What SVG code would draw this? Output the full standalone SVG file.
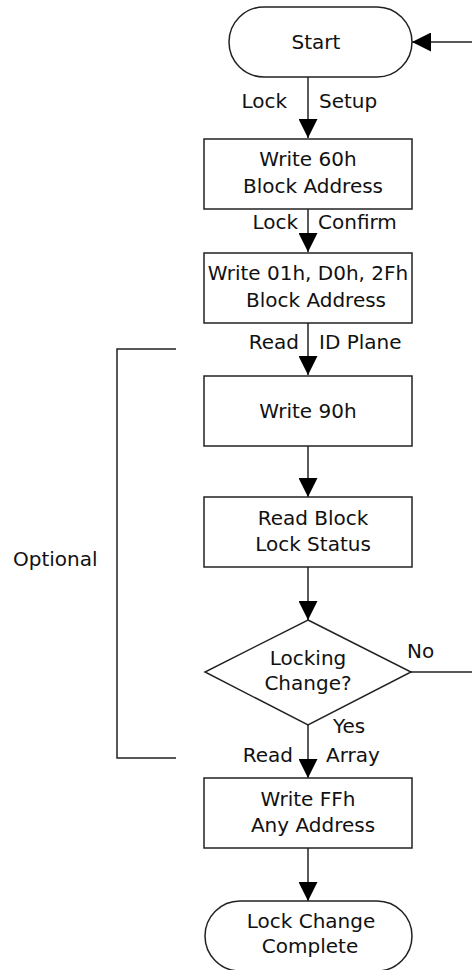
<svg xmlns="http://www.w3.org/2000/svg" width="472" height="970" viewBox="0 0 472 970">
<style>
.s{fill:#fff;stroke:#222;stroke-width:1.5}
.l{fill:none;stroke:#222;stroke-width:1.5}
text{font-family:"DejaVu Sans","Liberation Sans",sans-serif;font-size:20px;fill:#111}
.c{text-anchor:middle}
.e{text-anchor:end}
</style>
<defs>
<marker id="ah" viewBox="0 0 19 19" refX="19" refY="9.5" markerWidth="19" markerHeight="19" markerUnits="userSpaceOnUse" orient="auto">
<path d="M0,0 L19,9.5 L0,19 Z" fill="#000"/>
</marker>
</defs>
<rect width="472" height="970" fill="#fff"/>
<g id="connectors">
<line class="l" x1="308" y1="77" x2="308" y2="138" marker-end="url(#ah)"/>
<line class="l" x1="308" y1="209" x2="308" y2="252" marker-end="url(#ah)"/>
<line class="l" x1="308" y1="323" x2="308" y2="375" marker-end="url(#ah)"/>
<line class="l" x1="308" y1="446" x2="308" y2="497" marker-end="url(#ah)"/>
<line class="l" x1="308" y1="567" x2="308" y2="620" marker-end="url(#ah)"/>
<line class="l" x1="308" y1="725" x2="308" y2="778" marker-end="url(#ah)"/>
<line class="l" x1="308" y1="848" x2="308" y2="901" marker-end="url(#ah)"/>
<line class="l" x1="411" y1="672" x2="472" y2="672"/>
<line class="l" x1="472" y1="42" x2="412" y2="42" marker-end="url(#ah)"/>
<text x="287" y="108" class="e">Lock</text>
<text x="319" y="108">Setup</text>
<text x="298" y="229" class="e">Lock</text>
<text x="318" y="229">Confirm</text>
<text x="299" y="349" class="e">Read</text>
<text x="319" y="349">ID Plane</text>
<text x="407" y="658">No</text>
<text x="333" y="733">Yes</text>
<text x="293" y="762" class="e">Read</text>
<text x="326" y="762">Array</text>
</g>
<g id="bracket">
<path class="l" d="M176,349 H117 V758 H176"/>
<text x="13" y="566">Optional</text>
</g>
<g id="start">
<rect class="s" x="229" y="7" width="183" height="70" rx="35" ry="35"/>
<text x="316" y="49" class="c">Start</text>
</g>
<g id="write60">
<rect class="s" x="204" y="139" width="208" height="70"/>
<text x="308" y="166" class="c">Write 60h</text>
<text x="313" y="193" class="c">Block Address</text>
</g>
<g id="write01">
<rect class="s" x="204" y="253" width="208" height="70"/>
<text x="308" y="280" class="c">Write 01h, D0h, 2Fh</text>
<text x="316" y="307" class="c">Block Address</text>
</g>
<g id="write90">
<rect class="s" x="204" y="376" width="208" height="70"/>
<text x="308" y="418" class="c">Write 90h</text>
</g>
<g id="readstatus">
<rect class="s" x="204" y="497" width="208" height="70"/>
<text x="313" y="525" class="c">Read Block</text>
<text x="313" y="551" class="c">Lock Status</text>
</g>
<g id="decision">
<path class="s" d="M308,620 L411,672 L308,725 L205,672 Z"/>
<text x="308" y="665" class="c">Locking</text>
<text x="308" y="690" class="c">Change?</text>
</g>
<g id="writeff">
<rect class="s" x="204" y="778" width="208" height="70"/>
<text x="308" y="806" class="c">Write FFh</text>
<text x="313" y="832" class="c">Any Address</text>
</g>
<g id="end">
<rect class="s" x="205" y="901" width="207" height="70" rx="35" ry="35"/>
<text x="311" y="928" class="c">Lock Change</text>
<text x="310" y="953" class="c">Complete</text>
</g>
</svg>
